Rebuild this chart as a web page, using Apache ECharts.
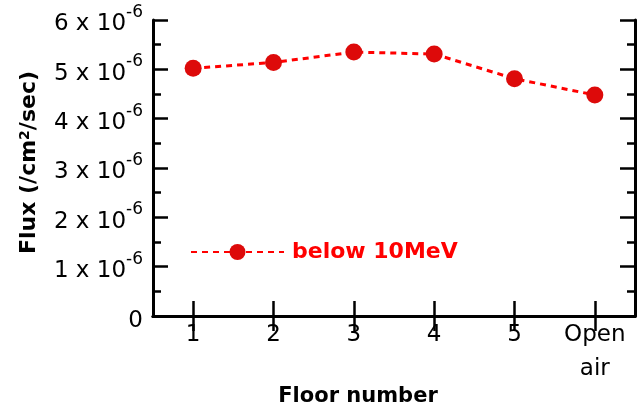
<!DOCTYPE html>
<html>
<head>
<meta charset="utf-8">
<script src="https://cdn.jsdelivr.net/npm/echarts@6/dist/echarts.min.js"></script>
<style>html,body{margin:0;padding:0;background:#fff;}#c{width:642px;height:407px;}</style>
</head>
<body>
<div id="c"></div>
<script>
const categories = ['1', '2', '3', '4', '5', 'Open\nair'];
const fluxBelow10MeV = [5.02e-6, 5.14e-6, 5.35e-6, 5.31e-6, 4.81e-6, 4.48e-6];
const seriesName = 'below 10MeV';
const yMin = 0, yMax = 6e-6, yStep = 1e-6;
const xTitle = 'Floor number';

const FONT = '"DejaVu Sans", sans-serif';
const chart = echarts.init(document.getElementById('c'), null, {renderer: 'canvas'});

const axisLine = {show: true, lineStyle: {color: '#000', width: 3}};
const tick = {show: true, inside: true, length: 15, lineStyle: {color: '#000', width: 2.5}};
const minorTick = {show: true, splitNumber: 2, length: 8, lineStyle: {color: '#000', width: 2.5}};

function yLabel(v) {
  if (Math.abs(v) < 1e-12) return '{z|0}';
  const n = Math.round(v / 1e-6);
  return '{a|' + n + ' x 10}{s|-6}';
}

chart.setOption({
  animation: false,
  backgroundColor: '#fff',
  grid: {left: 153, right: 7, top: 20, bottom: 91, show: false, containLabel: false, outerBoundsMode: 'none'},
  legend: {
    left: 185, top: 234,
    itemWidth: 93, itemHeight: 20,
    data: [seriesName],
    textStyle: {color: '#ff0000', fontWeight: 'bold', fontSize: 22, lineHeight: 26, fontFamily: FONT, padding: [0, 0, 0, 3]}
  },
  xAxis: [{
    type: 'category', data: categories, position: 'bottom', boundaryGap: true,
    axisLine: axisLine,
    axisTick: Object.assign({}, tick, {alignWithLabel: true}),
    axisLabel: {color: '#000', fontSize: 23, fontFamily: FONT, margin: 2, lineHeight: 34},
    splitLine: {show: false},
    name: xTitle, nameLocation: 'middle', nameGap: 69, nameMoveOverlap: false,
    nameTextStyle: {color: '#000', fontWeight: 'bold', fontSize: 21, lineHeight: 24, fontFamily: FONT, padding: [0, 72, 0, 0]}
  }, {
    type: 'category', data: categories, position: 'top', boundaryGap: true,
    axisLine: axisLine,
    axisTick: Object.assign({}, tick, {alignWithLabel: true}),
    axisLabel: {show: false}, splitLine: {show: false}
  }],
  yAxis: [{
    type: 'value', min: yMin, max: yMax, interval: yStep, position: 'left',
    axisLine: axisLine, axisTick: tick, minorTick: minorTick,
    splitLine: {show: false}, minorSplitLine: {show: false},
    axisLabel: {
      formatter: yLabel, margin: 10, align: 'right',
      rich: {
        a: {color: '#000', fontSize: 23, fontFamily: FONT, lineHeight: 32, verticalAlign: 'bottom'},
        s: {color: '#000', fontSize: 17, fontFamily: FONT, lineHeight: 17, verticalAlign: 'top'},
        z: {color: '#000', fontSize: 23, fontFamily: FONT, lineHeight: 33, verticalAlign: 'bottom'}
      }
    },
    name: '{t|Flux (/cm}{s|2}{t|/sec)}', nameLocation: 'middle', nameGap: 113, nameMoveOverlap: false,
    nameTextStyle: {
      padding: [0, 0, 0, 11],
      rich: {
        t: {color: '#000', fontWeight: 'bold', fontSize: 22, fontFamily: FONT, lineHeight: 22, verticalAlign: 'bottom'},
        s: {color: '#000', fontWeight: 'bold', fontSize: 14, fontFamily: FONT, lineHeight: 18, verticalAlign: 'top'}
      }
    }
  }, {
    type: 'value', min: yMin, max: yMax, interval: yStep, position: 'right',
    axisLine: axisLine, axisTick: tick, minorTick: minorTick,
    splitLine: {show: false}, axisLabel: {show: false}
  }],
  series: [{
    name: seriesName, type: 'line', data: fluxBelow10MeV,
    symbol: 'circle', symbolSize: 17,
    itemStyle: {color: '#dd0a0a'},
    lineStyle: {color: '#ff0000', width: 3, type: [6, 5]}
  }]
});
</script>
</body>
</html>
